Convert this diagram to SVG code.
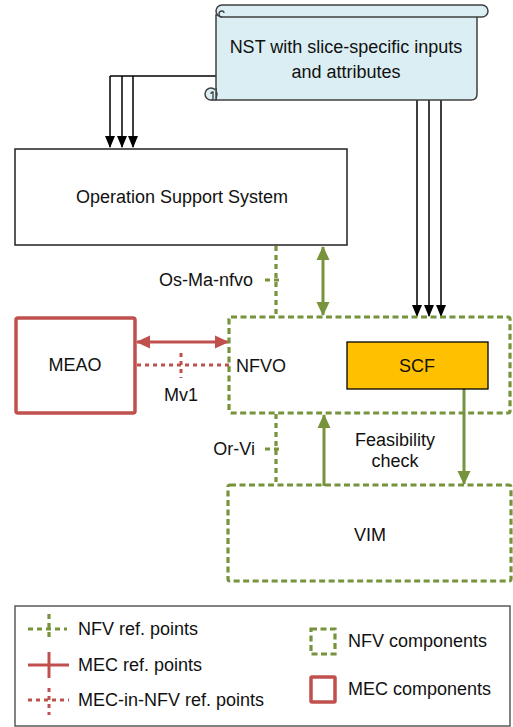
<svg xmlns="http://www.w3.org/2000/svg" width="513" height="727" viewBox="0 0 513 727">
  <style>
    text { font-family: "Liberation Sans", Arial, sans-serif; font-size: 18px; fill: #111; }
    .mid { text-anchor: middle; dominant-baseline: central; }
    .lft { text-anchor: start; dominant-baseline: central; }
    .rgt { text-anchor: end; dominant-baseline: central; }
    .box { fill: #fff; stroke: #222; stroke-width: 1.5; }
    .nfv { fill: none; stroke: #77933C; stroke-width: 3.2; stroke-dasharray: 6 3.5; }
    .nfvline { fill: none; stroke: #77933C; stroke-width: 3.2; stroke-dasharray: 5 4; }
    .mec { fill: #fff; stroke: #C0504D; stroke-width: 3.5; }
    .mecdot { fill: none; stroke: #C0504D; stroke-width: 3; stroke-dasharray: 4 4; }
    .blk { fill: none; stroke: #000; stroke-width: 1.5; }
    .grn { fill: none; stroke: #77933C; stroke-width: 3; }
    .red { fill: none; stroke: #C0504D; stroke-width: 3; }
    .scroll { fill: #DAEEF3; stroke: #404040; stroke-width: 1.5; }
  </style>
  <defs>
    <marker id="ahBlack" markerUnits="userSpaceOnUse" markerWidth="12" markerHeight="12" viewBox="0 0 12 12" refX="11" refY="6" orient="auto">
      <path d="M0,1 L12,6 L0,11 Z" fill="#000"/>
    </marker>
    <marker id="ahGreen" markerUnits="userSpaceOnUse" markerWidth="14" markerHeight="14" viewBox="0 0 14 14" refX="13" refY="7" orient="auto-start-reverse">
      <path d="M0,0.5 L14,7 L0,13.5 Z" fill="#77933C"/>
    </marker>
    <marker id="ahRed" markerUnits="userSpaceOnUse" markerWidth="14" markerHeight="14" viewBox="0 0 14 14" refX="13" refY="7" orient="auto-start-reverse">
      <path d="M0,0.5 L14,7 L0,13.5 Z" fill="#C0504D"/>
    </marker>
  </defs>

  <!-- connectors -->
  <g id="connectors">
    <!-- NST to OSS -->
    <path class="blk" d="M216,76 H110"/>
    <path class="blk" d="M110,76 V147" marker-end="url(#ahBlack)"/>
    <path class="blk" d="M122,76 V147" marker-end="url(#ahBlack)"/>
    <path class="blk" d="M133,76 V147" marker-end="url(#ahBlack)"/>
    <!-- NST to SCF / NFVO -->
    <path class="blk" d="M417,100 V316" marker-end="url(#ahBlack)"/>
    <path class="blk" d="M429,100 V316" marker-end="url(#ahBlack)"/>
    <path class="blk" d="M441,100 V316" marker-end="url(#ahBlack)"/>
    <!-- Os-Ma-nfvo -->
    <path class="nfvline" d="M276,246 V316"/>
    <path class="nfvline" d="M265,280 H282"/>
    <!-- OSS <-> NFVO -->
    <path class="grn" d="M323,247 V315" marker-start="url(#ahGreen)" marker-end="url(#ahGreen)"/>
    <!-- MEAO <-> NFVO -->
    <path class="red" d="M137,342 H228" marker-start="url(#ahRed)" marker-end="url(#ahRed)"/>
    <!-- Mv1 -->
    <path class="mecdot" d="M137,365 H229"/>
    <path class="mecdot" d="M181,353 V378"/>
    <!-- Or-Vi -->
    <path class="nfvline" d="M276,414 V484"/>
    <path class="nfvline" d="M265,449 H282"/>
    <!-- feasibility check -->
    <path class="grn" d="M324,486 V415" marker-end="url(#ahGreen)"/>
    <path class="grn" d="M464,389 V484" marker-end="url(#ahGreen)"/>
  </g>

  <!-- NST scroll -->
  <g id="nst">
    <path class="scroll" d="M216,15 V100 H471 Q477,100 477,94 V15 Z"/>
    <path class="scroll" d="M222,5 H482 A6,6 0 0 1 482,17 H222 A6,6 0 0 1 222,5 Z"/>
    <path fill="none" stroke="#404040" stroke-width="1.3" d="M222,17 A3,3 0 0 1 222,11 A2,2 0 0 1 224,13"/>
    <circle class="scroll" cx="211" cy="94" r="6"/>
    <path class="scroll" d="M216,88 V100 H211"/>
    <path fill="none" stroke="#404040" stroke-width="1.3" d="M211,94 A2,2 0 0 1 213,92 V100"/>
    <text class="mid" x="346" y="47">NST with slice-specific inputs</text>
    <text class="mid" x="346" y="72">and attributes</text>
  </g>

  <!-- Operation Support System -->
  <g id="oss">
    <rect class="box" x="15" y="149" width="332" height="96"/>
    <text class="mid" x="182" y="197">Operation Support System</text>
  </g>

  <!-- MEAO -->
  <g id="meao">
    <rect class="mec" x="16" y="318" width="119" height="95" rx="2"/>
    <text class="mid" x="75" y="365">MEAO</text>
  </g>

  <!-- NFVO -->
  <g id="nfvo">
    <rect class="nfv" x="229" y="317" width="281" height="96" rx="2"/>
    <text class="lft" x="236" y="366">NFVO</text>
  </g>

  <!-- SCF -->
  <g id="scf">
    <rect x="347" y="342" width="141" height="47" fill="#FFC000" stroke="#000" stroke-width="1.3"/>
    <text class="mid" x="417" y="366">SCF</text>
  </g>

  <!-- VIM -->
  <g id="vim">
    <rect class="nfv" x="228" y="485" width="283" height="96" rx="2"/>
    <text class="mid" x="370" y="535">VIM</text>
  </g>

  <!-- connector labels -->
  <g id="labels">
    <text class="rgt" x="253" y="280">Os-Ma-nfvo</text>
    <text class="mid" x="181" y="395">Mv1</text>
    <text class="rgt" x="255" y="449">Or-Vi</text>
    <text class="mid" x="395" y="440">Feasibility</text>
    <text class="mid" x="395" y="461">check</text>
  </g>

  <!-- legend -->
  <g id="legend">
    <rect x="15" y="606" width="495" height="120" fill="#fff" stroke="#595959" stroke-width="1.5"/>
    <path class="nfvline" d="M28,629 H67"/>
    <path class="nfvline" d="M49,614 V641"/>
    <text class="lft" x="78" y="629">NFV ref. points</text>
    <path class="red" d="M28,665 H69"/>
    <path class="red" d="M49,652 V678"/>
    <text class="lft" x="78" y="665">MEC ref. points</text>
    <path class="mecdot" d="M28,700 H69"/>
    <path class="mecdot" d="M49,688 V715"/>
    <text class="lft" x="78" y="700">MEC-in-NFV ref. points</text>
    <rect class="nfv" x="311" y="629" width="24" height="25"/>
    <text class="lft" x="348" y="641">NFV components</text>
    <rect class="mec" x="311" y="677" width="24" height="25" rx="1"/>
    <text class="lft" x="348" y="689">MEC components</text>
  </g>
</svg>
